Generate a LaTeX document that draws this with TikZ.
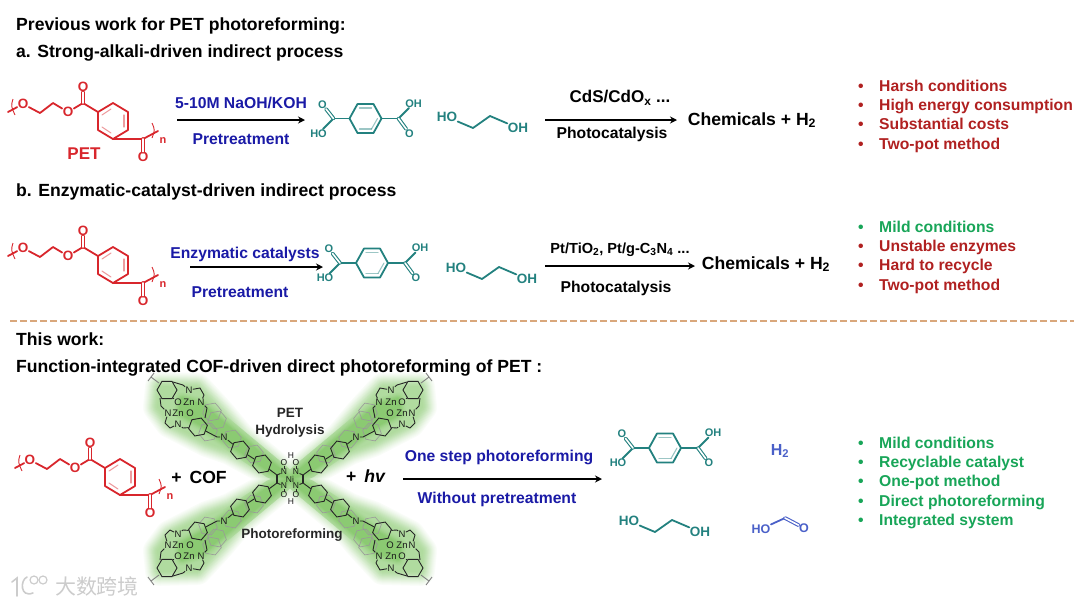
\documentclass[tikz,border=0pt]{standalone}
\usepackage{fontspec}
\setmainfont{Liberation Sans}
\newfontfamily\cjkfont{Noto Sans CJK SC}
\usepackage{tikz}
\usetikzlibrary{arrows.meta,positioning,shapes.geometric}

\definecolor{petred}{HTML}{D8262C}
\definecolor{acidteal}{HTML}{23817F}
\definecolor{formblue}{HTML}{4A60C8}
\definecolor{condblue}{HTML}{1A1AA6}
\definecolor{badred}{HTML}{B02020}
\definecolor{goodgreen}{HTML}{18A558}
\definecolor{cofglow}{HTML}{62B840}
\definecolor{sepline}{HTML}{D9A77C}

\newcommand{\bulitem}[1]{\makebox[21pt][l]{\textbullet}#1}

\tikzset{
  bond/.style={line width=1.8pt, line cap=round, line join=round},
  dblbond/.style={bond, line width=1.1pt, double=white, double distance=1.6pt},
  ringin/.style={line width=1.1pt, line cap=round, opacity=0.45},
  atom/.style={inner sep=0.4pt, font=\fontsize{13.5}{13.5}\selectfont\bfseries},
  smallatom/.style={atom, font=\fontsize{11}{11}\selectfont\bfseries},
  hdr/.style={inner sep=0, anchor=west, text height=13pt, text depth=3.5pt, font=\fontsize{17.6}{17.6}\selectfont\bfseries},
  cond/.style={inner sep=0, font=\fontsize{15.7}{15.7}\selectfont\bfseries, text=condblue},
  catal/.style={inner sep=0, font=\fontsize{15.7}{15.7}\selectfont\bfseries},
  prod/.style={inner sep=0, font=\fontsize{17.6}{17.6}\selectfont\bfseries},
  badline/.style={inner sep=0, text height=11pt, text depth=3pt, font=\fontsize{15.7}{15.7}\selectfont\bfseries, text=badred},
  goodline/.style={badline, text=goodgreen},
  arr/.style={-{Stealth[length=7pt,width=7pt]}, line width=1.3pt},
  cofb/.style={line width=0.9pt, black!85, line join=round},
  cofatom/.style={inner sep=0.2pt, font=\fontsize{9.5}{9.5}\selectfont, black!90},
  corelabel/.style={cofatom, font=\fontsize{8.5}{8.5}\selectfont},
  hexb/.style={regular polygon, regular polygon sides=6, transform shape, draw=black!85, line width=0.9pt, inner sep=0, minimum size=#1},
  hexg/.style={regular polygon, regular polygon sides=6, transform shape, draw=black!40, line width=0.6pt, inner sep=0, minimum size=#1},
  pics/pet/.style={code={
    \coordinate (start) at (-105,-9);
    \node[atom] (oa) at (-90,-17) {O};
    \coordinate (ca) at (-73,-8);
    \coordinate (cb) at (-60,-18);
    \node[atom] (ob) at (-45,-9) {O};
    \coordinate (cc) at (-30,-18);
    \node[atom] (oc) at (-30,-34) {O};
    \coordinate (ra) at (-15,-9);
    \coordinate (rb) at (0,-18);
    \coordinate (rc) at (15,-9);
    \coordinate (rd) at (15,9);
    \coordinate (re) at (0,18);
    \coordinate (rf) at (-15,9);
    \coordinate (cd) at (30,18);
    \node[atom] (od) at (30,36) {O};
    \coordinate (stop) at (45,10);
    \node[smallatom] (n) at (50,20) {n};
    \draw[bond] (start) -- (oa) -- (ca) -- (cb) -- (ob) -- (cc) -- (ra);
    \draw[bond] (ra) -- (rb) -- (rc) -- (rd) -- (re) -- (rf) -- cycle;
    \draw[bond] (re) -- (cd) -- (stop);
    \draw[dblbond] (cc) -- (oc);
    \draw[dblbond] (cd) -- (od);
    \draw[ringin] (-11,6) -- (-2,12);
    \draw[ringin] (11,-6) -- (11,6);
    \draw[ringin] (-11,-6) -- (-2,-12);
    \draw[line width=0.9pt] (-100,-22) .. controls (-102,-15) .. (-98,-6);
    \draw[line width=0.9pt] (39,2) .. controls (42,9) .. (39,17);
  }},
  pics/tpa/.style={code={
    \coordinate (ra) at (-16,0);
    \coordinate (rb) at (-8,-14.5);
    \coordinate (rc) at (8,-14.5);
    \coordinate (rd) at (16,0);
    \coordinate (re) at (8,14.5);
    \coordinate (rf) at (-8,14.5);
    \coordinate (ca) at (-32,0);
    \coordinate (cb) at (33,0);
    \node[smallatom] (oa) at (-43,-14) {O};
    \node[smallatom] (ha) at (-47,15) {HO};
    \node[smallatom] (hb) at (48,-15) {OH};
    \node[smallatom] (ob) at (44,15) {O};
    \draw[bond] (ra) -- (rb) -- (rc) -- (rd) -- (re) -- (rf) -- cycle;
    \draw[bond] (ca) -- (ra);
    \draw[bond] (rd) -- (cb);
    \draw[bond] (ca) -- (ha);
    \draw[bond] (cb) -- (hb);
    \draw[dblbond] (ca) -- (oa);
    \draw[dblbond] (cb) -- (ob);
    \draw[ringin] (-6,-10.5) -- (6,-10.5);
    \draw[ringin] (-6,10.5) -- (6,10.5);
    \draw[ringin] (6,10.5) -- (12,0);
  }},
  pics/glycol/.style={code={
    \node[atom] (ha) at (-36,-5) {HO};
    \coordinate (ca) at (-10,6);
    \coordinate (cb) at (7,-6);
    \node[atom] (hb) at (35,6) {OH};
    \draw[bond] (ha) -- (ca) -- (cb) -- (hb);
  }},
  pics/cofarm/.style={code={
    \node[hexg=19pt, rotate=10] (ga) at (-36,-25) {};
    \node[hexg=19pt, rotate=10] (gb) at (-58,-40) {};
    \node[hexg=19pt, rotate=10] (gc) at (-78,-67) {};
    \node[hexg=19pt, rotate=10] (gd) at (-73,-59) {};
    \node[hexg=19pt, rotate=10] (ge) at (-82,-47) {};
    \node[hexb=19pt, rotate=10] (ra) at (-28,-15) {};
    \node[hexb=19pt, rotate=10] (rb) at (-50,-29) {};
    \node[hexb=19pt, rotate=10] (rc) at (-92,-52) {};
    \node[hexb=20pt] (re) at (-123,-89) {};
    \node[cofatom] (nc) at (-66,-42) {N};
    \node[cofatom] (na) at (-101,-89) {N};
    \node[cofatom] (oa) at (-112,-77) {O};
    \node[cofatom] (za) at (-101,-77) {Zn};
    \node[cofatom] (nb) at (-89,-77) {N};
    \node[cofatom] (nd) at (-122,-66) {N};
    \node[cofatom] (zb) at (-112,-66) {Zn};
    \node[cofatom] (ob) at (-100,-66) {O};
    \node[cofatom] (ne) at (-112,-55) {N};
    \node[corelabel] (nf) at (-6,-7) {N};
    \node[corelabel] (of) at (-6,-16) {O};
    \coordinate (end) at (-13,-4);
    \draw[cofb] (-117,-97) -- (-107,-94) -- (na);
    \draw[cofb] (na) -- (-90,-91) -- (-86,-84) -- (nb);
    \draw[cofb] (nb) -- (-83,-71) -- (-85,-61);
    \draw[cofb] (oa) -- (-117,-81);
    \draw[cofb] (nd) -- (-129,-73) -- (-130,-81);
    \draw[cofb] (nd) -- (-125,-56) -- (-120,-51) -- (ne);
    \draw[cofb] (ne) -- (-107,-51) -- (rc);
    \draw[cofb] (rc) -- (-73,-42) -- (nc);
    \draw[cofb] (nc) -- (rb);
    \draw[cofb] (rb) -- (ra);
    \draw[cofb] (ra) -- (end);
    \draw[cofb] (end) -- (nf);
    \draw[cofb] (nf) -- (of);
    \draw[cofb, black!50] (-131,-96) -- (-139,-102);
    \draw[cofb, black!50] (-142,-98) -- (-136,-106);
  }}
}

\begin{document}
\begin{tikzpicture}[x=1pt, y=-1pt]
\useasboundingbox (0,0) rectangle (1080,606);

% green glow behind the COF
\foreach \wd/\tn in {30/3,28/6,26/9,24/12,22/16,20/20,18/24,16/28,14/32,12/36,10/40,8/43,6/46,4/48,2/50}{
  \foreach \sx/\sy in {1/1,-1/1,1/-1,-1/-1}{
    \begin{scope}[shift={(290,479)}, xscale=\sx, yscale=\sy]
      \path[draw=cofglow!\tn!white, fill=cofglow!\tn!white, line width=\wd pt, line join=round]
        (-130,-92) -- (-93,-91) -- (-70,-66) -- (-50,-42) -- (-10,-9) -- (0,0) -- (-23,-9)
        -- (-60,-29) -- (-83,-37) -- (-120,-56) -- (-132,-72) -- cycle;
    \end{scope}
  }
}
\foreach \wd/\tn in {14/52,12/55,10/58,8/62,6/66,4/70,2/74}{
  \foreach \sx/\sy in {1/1,-1/1,1/-1,-1/-1}{
    \begin{scope}[shift={(290,479)}, xscale=\sx, yscale=\sy]
      \path[draw=cofglow!\tn!white, fill=cofglow!\tn!white, line width=\wd pt, line join=round]
        (-108,-80) -- (-88,-74) -- (-10,-9) -- (0,0) -- (-20,-8) -- (-90,-55) -- (-110,-66) -- cycle;
    \end{scope}
  }
}

% headings
\node[hdr] (prevwork) at (16,25.5) {Previous work for PET photoreforming:};
\node[hdr] (parta) at (16,53) {a. Strong-alkali-driven indirect process};
\node[hdr] (partb) at (16,191.5) {b. Enzymatic-catalyst-driven indirect process};
\node[hdr] (thiswork) at (16,340.5) {This work:};
\node[hdr] (partc) at (16,367.5) {Function-integrated COF-driven direct photoreforming of PET :};

\coordinate (sepa) at (10,321);
\coordinate (sepb) at (1074,321);
\draw[sepline, dashed, line width=1.5pt, dash pattern=on 7pt off 3pt] (sepa) -- (sepb);

% route a
\pic[petred] (peta) at (113,121) {pet};
\node[inner sep=0, font=\fontsize{17}{17}\selectfont\bfseries, text=petred] (petname) at (84,154) {PET};
\node[cond] (condatop) at (241,103) {5-10M NaOH/KOH};
\node[cond] (condabot) at (241,139) {Pretreatment};
\coordinate (arraa) at (177,120);
\coordinate (arrab) at (305,120);
\draw[arr] (arraa) -- (arrab);
\pic[acidteal] (tpaa) at (365.5,118.5) {tpa};
\pic[acidteal] (ega) at (483,122) {glycol};
\node[catal, font=\fontsize{17}{17}\selectfont\bfseries] (catatop) at (620,98) {CdS/CdO$_{\mathbf{x}}$ ...};
\node[catal] (catabot) at (612,134) {Photocatalysis};
\coordinate (arrba) at (545,120);
\coordinate (arrbb) at (677,120);
\draw[arr] (arrba) -- (arrbb);
\node[prod] (proda) at (752,120) {Chemicals + H$_{\mathbf{2}}$};

\node[badline, anchor=west] (harsh) at (858,87) {\bulitem{Harsh conditions}};
\node[badline, below=5pt of harsh.south west, anchor=north west] (energy) {\bulitem{High energy consumption}};
\node[badline, below=5pt of energy.south west, anchor=north west] (costs) {\bulitem{Substantial costs}};
\node[badline, below=5pt of costs.south west, anchor=north west] (twopota) {\bulitem{Two-pot method}};

% route b
\pic[petred] (petb) at (113,265) {pet};
\node[cond] (condbtop) at (245,254) {Enzymatic catalysts};
\node[cond] (condbbot) at (240,292) {Pretreatment};
\coordinate (arrca) at (190,267);
\coordinate (arrcb) at (323,267);
\draw[arr] (arrca) -- (arrcb);
\pic[acidteal] (tpab) at (372,263) {tpa};
\pic[acidteal] (egb) at (492,273) {glycol};
\node[catal, font=\fontsize{14.6}{14.6}\selectfont\bfseries] (catbtop) at (620,250) {Pt/TiO$_{\mathbf{2}}$, Pt/g-C$_{\mathbf{3}}$N$_{\mathbf{4}}$ ...};
\node[catal] (catbbot) at (616,288) {Photocatalysis};
\coordinate (arrda) at (545,266);
\coordinate (arrdb) at (695,266);
\draw[arr] (arrda) -- (arrdb);
\node[prod] (prodb) at (766,264) {Chemicals + H$_{\mathbf{2}}$};

\node[goodline, anchor=west] (milda) at (858,228) {\bulitem{Mild conditions}};
\node[badline, below=5pt of milda.south west, anchor=north west] (unstable) {\bulitem{Unstable enzymes}};
\node[badline, below=5pt of unstable.south west, anchor=north west] (recycle) {\bulitem{Hard to recycle}};
\node[badline, below=5pt of recycle.south west, anchor=north west] (twopotb) {\bulitem{Two-pot method}};

% this work
\pic[petred] (petc) at (120,477) {pet};
\node[prod] (pluscof) at (199,477) {+\hspace{8pt}COF};
\begin{scope}[shift={(290,479)}]
  \pic (ul) at (0,0) {cofarm};
  \pic[xscale=-1] (ur) at (0,0) {cofarm};
  \pic[yscale=-1] (ll) at (0,0) {cofarm};
  \pic[xscale=-1, yscale=-1] (lr) at (0,0) {cofarm};
  \node[corelabel] (ni) at (0,0) {Ni};
  \node[corelabel] (ht) at (1,-23) {H};
  \node[corelabel] (hb) at (1,23) {H};
  \draw[cofb, line width=1.1pt] (ulend) -- (llend);
  \draw[cofb, line width=1.1pt] (urend) -- (lrend);
\end{scope}
\node[inner sep=0, align=center, font=\fontsize{13.5}{17}\selectfont\bfseries, black!85] (hydrolysis) at (290,423) {PET\\Hydrolysis};
\node[inner sep=0, font=\fontsize{13.5}{13.5}\selectfont\bfseries, black!85] (reforming) at (292,535) {Photoreforming};
\node[prod] (plushv) at (366,476) {+\hspace{8pt}\textit{hv}};
\node[cond] (condctop) at (499,457) {One step photoreforming};
\node[cond] (condcbot) at (497,499) {Without pretreatment};
\coordinate (arrea) at (403,479);
\coordinate (arreb) at (602,479);
\draw[arr] (arrea) -- (arreb);
\pic[acidteal] (tpac) at (665,448) {tpa};
\pic[acidteal] (egc) at (665,526) {glycol};
\node[inner sep=0, font=\fontsize{16}{16}\selectfont\bfseries, text=formblue] (htwo) at (780,451) {H$_{\mathbf{2}}$};
\begin{scope}[formblue]
  \node[atom, font=\fontsize{12.5}{12.5}\selectfont\bfseries] (formha) at (761,529) {HO};
  \coordinate (formc) at (785,518);
  \node[atom, font=\fontsize{12.5}{12.5}\selectfont\bfseries] (formo) at (804,528) {O};
  \draw[bond] (formha) -- (formc);
  \draw[dblbond] (formc) -- (formo);
\end{scope}

\node[goodline, anchor=west] (mildb) at (858,444) {\bulitem{Mild conditions}};
\node[goodline, below=5pt of mildb.south west, anchor=north west] (recyclable) {\bulitem{Recyclable catalyst}};
\node[goodline, below=5pt of recyclable.south west, anchor=north west] (onepot) {\bulitem{One-pot method}};
\node[goodline, below=5pt of onepot.south west, anchor=north west] (direct) {\bulitem{Direct photoreforming}};
\node[goodline, below=5pt of direct.south west, anchor=north west] (integrated) {\bulitem{Integrated system}};

% watermark
\node[inner sep=0, font=\fontsize{21}{21}\selectfont\cjkfont, text=black!20] (wmark) at (97,586) {大数跨境};
\draw[black!20, line width=1.6pt, line cap=round] (12,582) -- (17,578) -- (17,596);
\draw[black!20, line width=1.6pt, line cap=round] (33,593) .. controls (20,598) and (20,580) .. (27,577);
\draw[black!20, line width=1.2pt] (34,580) circle (4pt);
\draw[black!20, line width=1.2pt] (43,580) circle (4pt);
\end{tikzpicture}
\end{document}
